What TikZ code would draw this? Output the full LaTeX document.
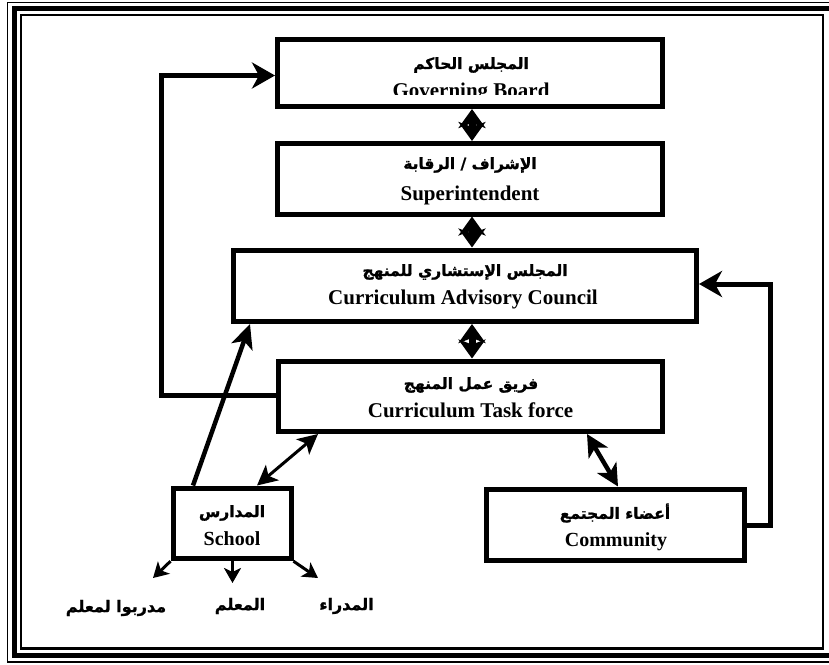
\documentclass[tikz,border=0pt]{standalone}
\usepackage{fontspec}
\setmainfont{Liberation Serif}
\newfontfamily\arabicfont[Script=Arabic,FakeBold=1.2]{DejaVu Sans}
\TeXXeTstate=1
\usetikzlibrary{arrows.meta}
\tikzset{
  boxnode/.style={draw, line width=5pt, inner sep=0pt},
  ar/.style={font=\arabicfont\bfseries\fontsize{15.5}{18}\selectfont, inner sep=0pt},
  arlab/.style={font=\arabicfont\bfseries\fontsize{16}{18}\selectfont, inner sep=0pt},
  en/.style={font=\bfseries\fontsize{21}{24}\selectfont, inner sep=0pt, anchor=base},
  ens/.style={font=\bfseries\fontsize{20}{24}\selectfont, inner sep=0pt, anchor=base},
  dbl/.style={line width=7pt, {Stealth[length=19pt,width=27pt,inset=5pt]}-{Stealth[length=19pt,width=27pt,inset=5pt]}},
  elbow/.style={line width=5pt, -{Stealth[length=23pt,width=26pt,inset=7pt]}},
  conn/.style={line width=4.5pt, -{Stealth[length=24pt,width=22pt,inset=6pt]}},
  dblsmall/.style={line width=3pt, {Stealth[length=20pt,width=20pt,inset=5pt]}-{Stealth[length=20pt,width=20pt,inset=5pt]}},
  dblmid/.style={line width=4.5pt, {Stealth[length=22pt,width=22pt,inset=6pt]}-{Stealth[length=22pt,width=22pt,inset=6pt]}},
  outarrow/.style={line width=3pt, -{Stealth[length=15pt,width=17pt,inset=4pt]}},
}
\begin{document}
\begin{tikzpicture}[x=1pt,y=-1pt]
\useasboundingbox (0,0) rectangle (829,664);
\clip (0,0) rectangle (829,664);
\fill[white] (0,0) rectangle (829,664);
% page frame
\draw[line width=1.5pt] (7.5,2.5) rectangle (840,662);
\draw[line width=5pt] (14.5,8.5) rectangle (832,655.5);
\draw[line width=2.5pt] (21,15) rectangle (823,648.5);

% boxes
\node[boxnode, minimum width=385pt, minimum height=67.5pt] (GB) at (470,72.75) {};
\node[boxnode, minimum width=385pt, minimum height=70.5pt] (Sup) at (470,178.75) {};
\node[boxnode, minimum width=463pt, minimum height=71.5pt] (CAC) at (465,285.75) {};
\node[boxnode, minimum width=384.5pt, minimum height=70.5pt] (TF) at (470.25,396.25) {};
\node[boxnode, minimum width=118pt, minimum height=70.7pt] (School) at (232,523.35) {};
\node[boxnode, minimum width=257.5pt, minimum height=71pt] (Com) at (615.25,524.5) {};

% texts
\node[ar] (GBa) at (471,65) {\beginR المجلس الحاكم\endR};
\begin{scope}
\clip (280,70) rectangle (660,94.5);
\node[en] (GBe) at (471,97) {Governing Board};
\end{scope}
\node[ar] (Supa) at (470,165) {\beginR الإشراف / الرقابة\endR};
\node[en] (Supe) at (470,200) {Superintendent};
\node[ar] (CACa) at (465,272) {\beginR المجلس الإستشاري للمنهج\endR};
\node[en] (CACe) at (463,304) {Curriculum Advisory Council};
\node[ar] (TFa) at (471,385) {\beginR فريق عمل المنهج\endR};
\node[en] (TFe) at (470.5,417) {Curriculum Task force};
\node[ar] (Schoola) at (232,513) {\beginR المدارس\endR};
\node[ens] (Schoole) at (232,545) {School};
\node[ar] (Coma) at (615,513) {\beginR أعضاء المجتمع\endR};
\node[ens] (Come) at (616,546) {Community};

% bottom labels
\node[arlab] (L1) at (116,608) {\beginR مدربوا لمعلم\endR};
\node[arlab] (L2) at (240,606) {\beginR المعلم\endR};
\node[arlab] (L3) at (346.5,606) {\beginR المدراء\endR};

% helper coordinates
\coordinate (mx) at (472,0);
\coordinate (LL) at (161.5,395.5);
\coordinate (LT) at (161.5,75.5);
\coordinate (RB) at (770.5,525.5);
\coordinate (RT) at (770.5,284);
\coordinate (s1) at (193,0);
\coordinate (c1) at (250,0);
\coordinate (s2) at (257,0);
\coordinate (t2) at (318,0);
\coordinate (t3) at (587,0);
\coordinate (m3) at (618,0);
\coordinate (o1) at (153,578);
\coordinate (o2) at (232.5,583);
\coordinate (o3) at (318,578);

% vertical double arrows
\draw[dbl] (GB.south -| mx) -- (Sup.north -| mx);
\draw[dbl] (Sup.south -| mx) -- (CAC.north -| mx);
\draw[dbl] (CAC.south -| mx) -- (TF.north -| mx);

% elbows
\draw[elbow] (TF.west |- LL) -- (LL) -- (LT) -- (GB.west |- LT);
\draw[elbow] (Com.east |- RB) -- (RB) -- (RT) -- (CAC.east |- RT);

% school links
\draw[conn] (School.north -| s1) -- (CAC.south -| c1);
\draw[dblsmall] (School.north -| s2) -- (TF.south -| t2);
\draw[dblmid] (TF.south -| t3) -- (Com.north -| m3);

% school outputs
\draw[outarrow] (School.south west) -- (o1);
\draw[outarrow] (School.south -| o2) -- (o2);
\draw[outarrow] (School.south east) -- (o3);
\end{tikzpicture}
\end{document}
